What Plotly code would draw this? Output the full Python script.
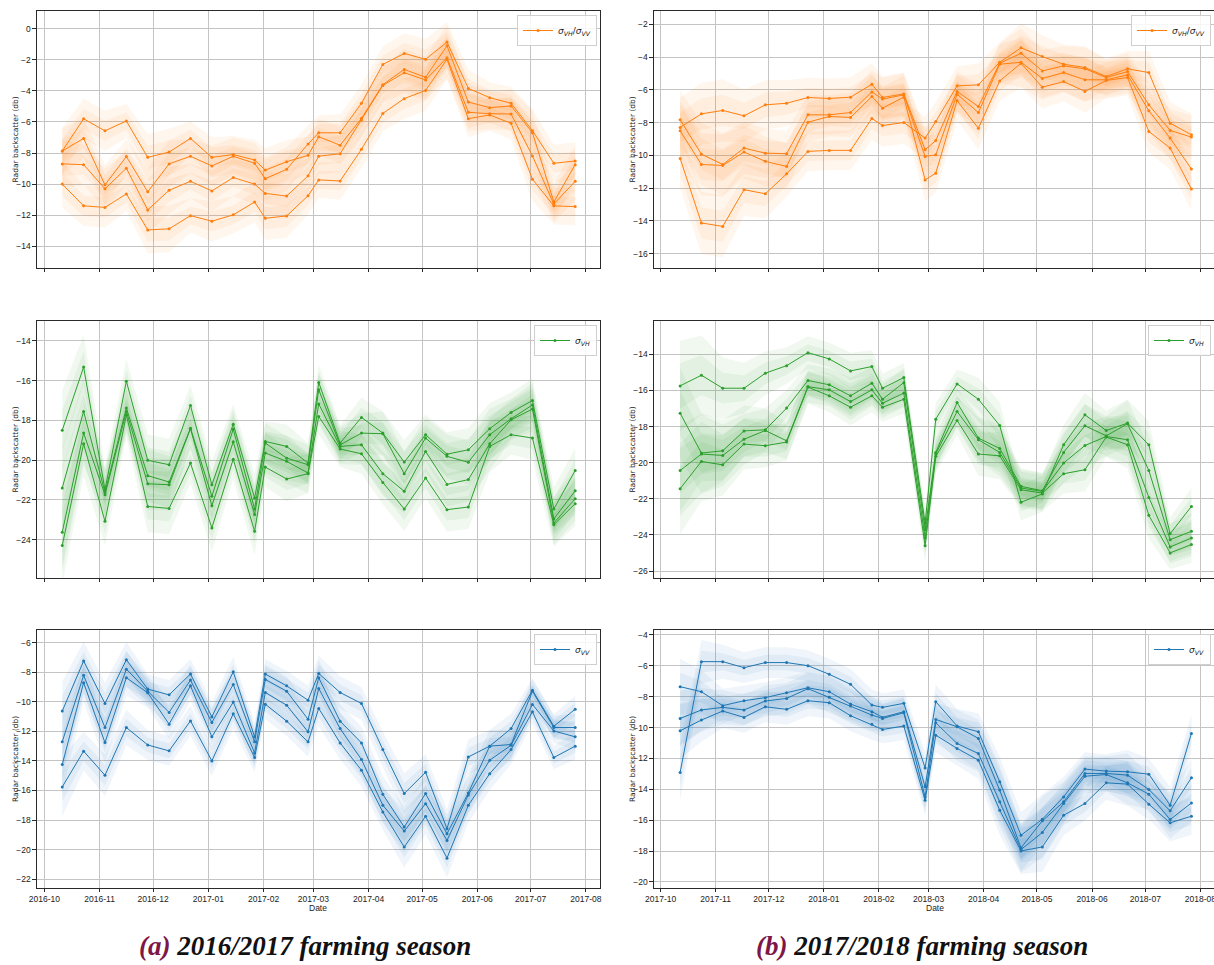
import plotly.graph_objects as go

W, H = 1214, 965

DATES_1617 = ["2016-10-11", "2016-10-23", "2016-11-04", "2016-11-16", "2016-11-28", "2016-12-10",
              "2016-12-22", "2017-01-03", "2017-01-15", "2017-01-27", "2017-02-02", "2017-02-14",
              "2017-02-26", "2017-03-04", "2017-03-16", "2017-03-28", "2017-04-09", "2017-04-21",
              "2017-05-03", "2017-05-15", "2017-05-27", "2017-06-08", "2017-06-20", "2017-07-02",
              "2017-07-14", "2017-07-26"]
DATES_1718 = ["2017-10-12", "2017-10-24", "2017-11-05", "2017-11-17", "2017-11-29", "2017-12-11",
              "2017-12-23", "2018-01-04", "2018-01-16", "2018-01-28", "2018-02-03", "2018-02-15",
              "2018-02-27", "2018-03-05", "2018-03-17", "2018-03-29", "2018-04-10", "2018-04-22",
              "2018-05-04", "2018-05-16", "2018-05-28", "2018-06-09", "2018-06-21", "2018-07-03",
              "2018-07-15", "2018-07-27"]

# ---- sigma_VH / sigma_VV, 2016/2017 ----
RATIO_1617_A = [-7.87, -5.80, -6.57, -5.94, -8.28, -7.94, -7.06, -8.28, -8.10, -8.45, -9.10, -8.56, -8.15,
                -6.95, -7.50, -5.77, -3.60, -2.62, -3.13, -1.10, -4.72, -5.08, -4.97, -6.69, -11.15, -8.75]
RATIO_1617_B = [-7.87, -7.06, -10.05, -8.23, -10.50, -8.70, -8.21, -8.83, -8.21, -8.66, -9.65, -9.05, -7.42,
                -6.70, -6.70, -4.80, -2.30, -1.59, -1.97, -0.86, -3.84, -4.44, -4.80, -6.56, -8.66, -8.51]
RATIO_1617_C = [-8.70, -8.75, -10.30, -8.98, -11.66, -10.40, -9.82, -10.44, -9.58, -10.00, -10.60, -10.77, -9.47,
                -8.20, -8.05, -5.88, -3.65, -2.83, -3.30, -1.87, -5.38, -5.47, -5.49, -8.19, -11.28, -9.82]
RATIO_1617_D = [-10.00, -11.40, -11.50, -10.63, -12.95, -12.88, -12.03, -12.39, -11.98, -11.15, -12.20, -12.05,
                -10.75, -9.73, -9.80, -7.76, -5.45, -4.50, -3.97, -1.97, -5.79, -5.55, -6.09, -9.69, -11.40, -11.45]
RATIO_1617_SPREAD = [1.5, 1.3, 1.3, 1.1, 1.5, 1.5, 1.1, 1.3, 1.2, 1.3, 1.4, 1.4, 1.2, 1.15, 1.2, 1.2, 1.15,
                     1.3, 1.3, 1.3, 1.2, 1.0, 1.05, 1.4, 1.2, 1.2]

# ---- sigma_VH / sigma_VV, 2017/2018 ----
RATIO_1718_A = [-8.30, -7.47, -7.26, -7.59, -6.92, -6.82, -6.47, -6.53, -6.45, -5.66, -6.47, -6.25, -9.66,
                -9.10, -6.10, -7.02, -4.38, -3.77, -4.85, -4.54, -4.72, -5.25, -4.89, -6.92, -8.48, -8.89]
RATIO_1718_B = [-7.83, -9.93, -10.56, -9.56, -9.87, -9.90, -7.53, -7.53, -7.39, -6.13, -6.57, -6.31, -10.07,
                -9.97, -6.27, -7.39, -4.44, -4.32, -5.31, -4.95, -5.39, -5.39, -5.09, -7.28, -8.95, -10.84]
RATIO_1718_C = [-8.50, -10.56, -10.62, -9.80, -10.37, -10.68, -7.98, -7.63, -7.69, -6.41, -7.12, -6.45, -11.50,
                -11.09, -6.66, -8.35, -5.46, -4.38, -5.84, -5.50, -6.10, -5.43, -5.25, -8.54, -9.56, -12.06]
RATIO_1718_D = [-10.19, -14.13, -14.34, -12.10, -12.35, -11.13, -9.76, -9.70, -9.70, -7.75, -8.18, -8.00, -8.95,
                -7.94, -5.76, -5.70, -4.32, -3.44, -3.97, -4.44, -4.64, -5.19, -4.72, -4.95, -8.04, -8.75]
RATIO_1718_SPREAD = [1.8, 1.9, 1.9, 1.6, 1.5, 1.4, 1.2, 1.2, 1.2, 1.3, 1.3, 1.3, 1.3, 1.2, 1.2, 1.3, 1.2,
                     1.5, 1.3, 1.2, 1.3, 1.1, 1.1, 1.3, 1.3, 1.3]

# ---- sigma_VH, 2016/2017 ----
VH_1617_A = [-18.50, -15.32, -21.49, -16.03, -20.01, -20.23, -17.25, -21.24, -18.19, -21.90, -19.06, -19.31,
             -20.15, -16.09, -19.14, -17.85, -18.64, -20.10, -18.72, -19.70, -19.48, -18.42, -17.60, -17.00,
             -22.46, -20.52]
VH_1617_B = [-21.40, -17.55, -21.62, -17.38, -20.78, -21.10, -18.39, -21.82, -18.44, -22.46, -19.14, -19.90,
             -20.23, -16.46, -19.23, -18.64, -18.67, -20.68, -18.89, -19.81, -20.11, -18.72, -17.92, -17.22,
             -22.96, -21.54]
VH_1617_C = [-23.63, -18.64, -21.74, -17.55, -21.19, -21.24, -18.42, -22.29, -19.08, -22.74, -19.64, -20.06,
             -20.65, -17.17, -19.31, -19.23, -20.68, -21.57, -19.56, -21.22, -20.98, -19.18, -17.97, -17.43,
             -23.16, -21.94]
VH_1617_D = [-24.30, -19.18, -23.08, -17.72, -22.33, -22.43, -20.15, -23.41, -19.95, -23.58, -20.35, -20.95,
             -20.68, -17.80, -19.44, -19.68, -21.12, -22.46, -20.90, -22.49, -22.36, -19.31, -18.72, -18.89,
             -23.25, -22.19]
VH_1617_SPREAD = [2.0, 1.6, 1.2, 1.1, 1.3, 1.3, 1.0, 1.2, 1.0, 1.2, 1.0, 1.1, 1.0, 0.9, 0.9, 1.0, 1.1,
                  1.1, 1.0, 1.1, 1.1, 1.3, 1.0, 1.1, 1.1, 1.1]

# ---- sigma_VH, 2017/2018 ----
VH_1718_A = [-15.75, -15.16, -15.88, -15.88, -15.05, -14.63, -13.91, -14.26, -14.92, -14.68, -15.88, -15.29,
             -23.34, -17.59, -15.64, -16.49, -17.94, -22.19, -21.73, -19.01, -17.35, -18.22, -17.81, -19.01,
             -23.93, -22.42]
VH_1718_B = [-17.26, -19.47, -19.34, -18.24, -18.18, -16.98, -15.45, -15.69, -16.30, -15.60, -16.49, -15.57,
             -23.71, -19.43, -16.67, -18.64, -19.21, -21.31, -21.55, -19.43, -17.96, -18.51, -17.85, -20.43,
             -24.26, -23.80]
VH_1718_C = [-20.43, -19.52, -19.60, -18.70, -18.22, -18.79, -15.79, -15.97, -16.62, -15.97, -16.71, -16.15,
             -24.17, -19.51, -17.17, -18.73, -19.43, -21.40, -21.59, -20.02, -19.05, -18.55, -18.73, -21.92,
             -24.66, -24.17]
VH_1718_D = [-21.44, -19.93, -20.12, -18.97, -19.06, -18.86, -15.82, -16.30, -16.93, -16.30, -16.93, -16.49,
             -24.59, -19.65, -17.66, -19.52, -19.62, -21.50, -21.68, -20.61, -20.39, -18.58, -19.01, -22.91,
             -24.99, -24.53]
VH_1718_SPREAD = [2.5, 2.2, 1.7, 1.4, 1.2, 1.0, 0.9, 0.9, 1.0, 0.9, 0.8, 0.8, 0.9, 0.9, 0.8, 1.2, 1.3,
                  1.0, 1.0, 1.1, 1.2, 1.1, 1.3, 1.3, 0.9, 1.0]

# ---- sigma_VV, 2016/2017 ----
VV_1617_A = [-10.63, -7.24, -10.11, -7.15, -9.14, -9.53, -8.12, -11.02, -7.97, -12.37, -8.12, -8.92, -9.89,
             -8.08, -9.37, -10.11, -13.23, -16.21, -14.77, -18.59, -13.73, -13.00, -11.81, -9.21, -11.65, -10.50]
VV_1617_B = [-12.71, -8.21, -11.74, -7.79, -9.28, -10.72, -8.53, -11.40, -8.82, -12.71, -8.49, -9.28, -11.18,
             -8.37, -11.31, -12.78, -16.26, -18.47, -16.21, -18.93, -16.17, -13.00, -12.89, -9.28, -11.74, -11.74]
VV_1617_C = [-14.25, -8.71, -12.76, -8.37, -9.39, -11.51, -8.92, -12.37, -10.02, -13.46, -9.37, -10.23, -12.03,
             -9.10, -11.81, -13.91, -17.00, -18.75, -16.89, -19.38, -16.30, -13.95, -12.94, -10.18, -11.97, -12.37]
VV_1617_D = [-15.76, -13.34, -14.97, -11.74, -12.92, -13.32, -11.29, -14.00, -10.81, -13.77, -10.16, -11.31,
             -12.71, -10.45, -12.78, -14.63, -17.46, -19.83, -17.75, -20.58, -17.00, -14.86, -13.23, -10.68,
             -13.77, -13.00]
VV_1617_SPREAD = [2.0, 1.3, 1.4, 1.2, 1.0, 1.0, 1.0, 1.0, 1.0, 1.0, 1.0, 1.0, 1.0, 1.2, 1.1, 1.1, 1.2,
                  1.4, 1.2, 1.3, 1.2, 1.1, 1.0, 0.8, 0.8, 0.9]

# ---- sigma_VV, 2017/2018 ----
VV_1718_A = [-12.91, -5.73, -5.73, -6.12, -5.79, -5.79, -5.99, -6.55, -7.20, -8.54, -8.69, -8.43, -12.61,
             -8.32, -9.90, -10.27, -13.51, -16.97, -15.94, -14.49, -12.69, -12.82, -12.86, -13.02, -15.03, -10.38]
VV_1718_B = [-7.35, -7.68, -8.58, -8.26, -8.06, -7.74, -7.42, -7.68, -8.48, -8.97, -9.34, -8.97, -13.84,
             -9.47, -9.95, -10.70, -14.05, -17.79, -16.04, -14.81, -12.97, -12.97, -13.08, -14.01, -15.39, -13.25]
VV_1718_C = [-9.41, -8.86, -8.69, -8.86, -8.28, -8.11, -7.48, -8.04, -8.61, -9.19, -9.41, -9.04, -14.49,
             -9.69, -11.03, -11.68, -14.81, -17.90, -16.80, -14.92, -13.15, -13.04, -13.58, -14.31, -15.96, -14.88]
VV_1718_D = [-10.21, -9.51, -8.93, -9.34, -8.65, -8.82, -8.26, -8.39, -9.23, -9.79, -10.12, -9.90, -14.70,
             -10.49, -11.35, -12.11, -15.35, -17.99, -17.73, -15.68, -14.92, -13.58, -13.66, -14.96, -16.17, -15.74]
VV_1718_SPREAD = [1.8, 1.4, 1.1, 1.0, 1.0, 1.0, 1.0, 1.0, 1.0, 1.0, 0.9, 0.9, 1.0, 1.1, 1.1, 1.2, 1.6,
                  1.5, 1.6, 1.3, 1.1, 1.1, 1.4, 1.0, 1.2, 1.2]

LABEL_RATIO = "<i>σ</i><sub><i>VH</i></sub>/<i>σ</i><sub><i>VV</i></sub>"
LABEL_VH = "<i>σ</i><sub><i>VH</i></sub>"
LABEL_VV = "<i>σ</i><sub><i>VV</i></sub>"
Y_TITLE = "Radar backscatter (db)"
X_TITLE = "Date"
CAPTIONS = ["(a)", "2016/2017 farming season", "(b)", "2017/2018 farming season"]

ORANGE, GREEN, BLUE = (255, 127, 14), (44, 160, 44), (31, 119, 180)

# panel layout (pixel boxes)
COL_X = [(37, 600), (654, 1214)]
ROW_Y = [(11, 268), (321, 578), (630, 888)]
X_RANGES = [["2016-09-26 20:00", "2017-08-08 22:00"], ["2017-09-27 07:00", "2018-08-08 17:00"]]

panels = [
    dict(row=0, col=0, dates=DATES_1617, series=[RATIO_1617_A, RATIO_1617_B, RATIO_1617_C, RATIO_1617_D],
         spread=RATIO_1617_SPREAD, color=ORANGE, label=LABEL_RATIO, yrange=[-15.4, 1.14]),
    dict(row=0, col=1, dates=DATES_1718, series=[RATIO_1718_A, RATIO_1718_B, RATIO_1718_C, RATIO_1718_D],
         spread=RATIO_1718_SPREAD, color=ORANGE, label=LABEL_RATIO, yrange=[-16.88, -1.19]),
    dict(row=1, col=0, dates=DATES_1617, series=[VH_1617_A, VH_1617_B, VH_1617_C, VH_1617_D],
         spread=VH_1617_SPREAD, color=GREEN, label=LABEL_VH, yrange=[-25.93, -13.0]),
    dict(row=1, col=1, dates=DATES_1718, series=[VH_1718_A, VH_1718_B, VH_1718_C, VH_1718_D],
         spread=VH_1718_SPREAD, color=GREEN, label=LABEL_VH, yrange=[-26.38, -12.16]),
    dict(row=2, col=0, dates=DATES_1617, series=[VV_1617_A, VV_1617_B, VV_1617_C, VV_1617_D],
         spread=VV_1617_SPREAD, color=BLUE, label=LABEL_VV, yrange=[-22.6, -5.14]),
    dict(row=2, col=1, dates=DATES_1718, series=[VV_1718_A, VV_1718_B, VV_1718_C, VV_1718_D],
         spread=VV_1718_SPREAD, color=BLUE, label=LABEL_VV, yrange=[-20.39, -3.68]),
]

TICK_FONT = dict(family="Liberation Sans, Arial, sans-serif", size=8.5, color="#222")
GRID = "#c4c4c4"
SPINE = "#2a2a2a"

fig = go.Figure()
layout = dict(width=W, height=H, margin=dict(l=0, r=0, t=0, b=0, pad=0, autoexpand=False),
              paper_bgcolor="white", plot_bgcolor="white", showlegend=True)
annotations = []

line_traces = []
for i, p in enumerate(panels):
    n = i + 1
    xa = "x" if n == 1 else f"x{n}"
    ya = "y" if n == 1 else f"y{n}"
    r, g, b = p["color"]
    rgb = f"rgb({r},{g},{b})"
    leg = "legend" if n == 1 else f"legend{n}"
    # uncertainty bands (outer and inner)
    for s in p["series"]:
        for frac in (1.0, 0.5):
            upper = [v + frac * w for v, w in zip(s, p["spread"])]
            lower = [v - frac * w for v, w in zip(s, p["spread"])]
            fig.add_trace(go.Scatter(
                x=p["dates"] + p["dates"][::-1], y=upper + lower[::-1],
                fill="toself", fillcolor=f"rgba({r},{g},{b},0.07)",
                line=dict(width=0), mode="lines", hoverinfo="skip",
                showlegend=False, xaxis=xa, yaxis=ya))
    for k, s in enumerate(p["series"]):
        line_traces.append(go.Scatter(
            x=p["dates"], y=s, mode="lines+markers",
            line=dict(color=rgb, width=1), marker=dict(color=rgb, size=3),
            name=p["label"], showlegend=(k == 0), legend=leg,
            xaxis=xa, yaxis=ya))

    x0, x1 = COL_X[p["col"]]
    y0, y1 = ROW_Y[p["row"]]
    xd = [x0 / W, x1 / W]
    yd = [1 - y1 / H, 1 - y0 / H]
    bottom = p["row"] == 2
    layout["xaxis" if n == 1 else f"xaxis{n}"] = dict(
        domain=xd, anchor=ya, type="date", range=X_RANGES[p["col"]],
        dtick="M1", tick0="2016-10-01", tickformat="%Y-%m",
        showgrid=True, gridcolor=GRID, gridwidth=1,
        showline=True, linecolor=SPINE, linewidth=1.2, mirror=True,
        ticks="outside", ticklen=3, tickcolor=SPINE, tickwidth=1,
        showticklabels=bottom, tickfont=TICK_FONT, zeroline=False,
        automargin=False, ticklabeloverflow="allow")
    layout["yaxis" if n == 1 else f"yaxis{n}"] = dict(
        domain=yd, anchor=xa, range=p["yrange"], dtick=2,
        showgrid=True, gridcolor=GRID, gridwidth=1,
        showline=True, linecolor=SPINE, linewidth=1.2, mirror=True,
        ticks="outside", ticklen=3.5, tickcolor=SPINE, tickwidth=1,
        tickfont=TICK_FONT, zeroline=False, automargin=False)
    layout[leg] = dict(
        x=xd[1] - 3 / W, y=yd[1] - 4 / H, xanchor="right", yanchor="top",
        xref="paper", yref="paper",
        bgcolor="rgba(255,255,255,0.85)", bordercolor="#cfcfcf", borderwidth=1,
        font=dict(family="DejaVu Sans, sans-serif", size=9, color="#222"),
        itemwidth=30, tracegroupgap=0)
    # y-axis title
    annotations.append(dict(
        text=Y_TITLE, xref="paper", yref="paper",
        x=(15 if p["col"] == 0 else 632) / W, y=(yd[0] + yd[1]) / 2,
        xanchor="center", yanchor="middle", textangle=-90, showarrow=False,
        font=dict(family="DejaVu Sans, sans-serif", size=7.5, color="#222")))
    if bottom:
        annotations.append(dict(
            text=X_TITLE, xref="paper", yref="paper",
            x=(318 if p["col"] == 0 else 935) / W, y=1 - 908 / H,
            xanchor="center", yanchor="middle", showarrow=False,
            font=dict(family="Liberation Sans, Arial, sans-serif", size=8.5, color="#222")))

for t in line_traces:
    fig.add_trace(t)

# captions
for cx, tag, text in [(305, CAPTIONS[0], CAPTIONS[1]), (922, CAPTIONS[2], CAPTIONS[3])]:
    annotations.append(dict(
        text=f"<b><i><span style='color:#7e1646'>{tag}</span> {text}</i></b>",
        xref="paper", yref="paper", x=cx / W, y=1 - 946 / H,
        xanchor="center", yanchor="middle", showarrow=False,
        font=dict(family="Liberation Serif, Times New Roman, serif", size=27, color="#111")))

layout["annotations"] = annotations
fig.update_layout(**layout)
fig.write_html(
    "out.html",
    config={"displayModeBar": False},
    post_script="document.body.style.margin='0';document.body.style.overflow='hidden';",
)
